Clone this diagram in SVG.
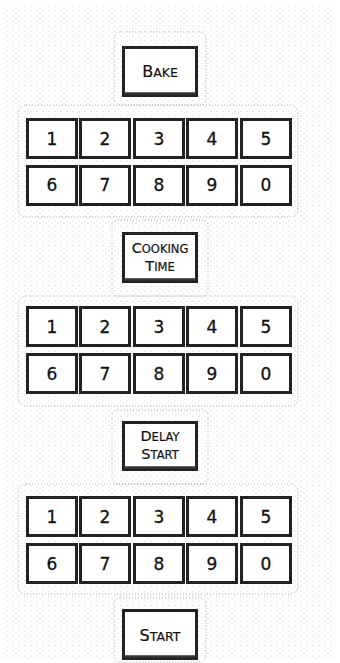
<svg xmlns="http://www.w3.org/2000/svg" width="340" height="663" viewBox="0 0 340 663">
<defs>
<pattern id="stip" width="6" height="5" patternUnits="userSpaceOnUse">
<circle cx="1" cy="1" r="0.5" fill="#b5b5b5"/>
<circle cx="4" cy="3.5" r="0.45" fill="#c5c5c5"/>
</pattern>
<style>
.key{fill:#fff;stroke:#222;stroke-width:3}
.btm{stroke:#333;stroke-width:2.5;fill:none}
.dig{font-family:"DejaVu Sans","Liberation Sans",sans-serif;font-size:17px;fill:#111;stroke:#111;stroke-width:0.3;text-anchor:middle}
.lbl{font-family:"DejaVu Sans","Liberation Sans",sans-serif;font-size:16px;fill:#111;stroke:#111;stroke-width:0.2;text-anchor:middle}
.lbl2{font-family:"DejaVu Sans","Liberation Sans",sans-serif;font-size:14.5px;fill:#111;stroke:#111;stroke-width:0.2;text-anchor:middle}
.sc{font-size:12.5px}
.sc2{font-size:11.5px}
.zone{fill:none;stroke:#999;stroke-width:0.8;stroke-dasharray:1 2}
</style>
</defs>
<rect x="0" y="0" width="340" height="663" fill="#fff"/>
<rect x="3" y="6" width="332" height="654" fill="url(#stip)"/>
<g id="zones">
<rect class="zone" x="114" y="32" width="92" height="73" rx="6"/>
<rect class="zone" x="18" y="105" width="280" height="112" rx="8"/>
<rect class="zone" x="112" y="220" width="96" height="76" rx="6"/>
<rect class="zone" x="18" y="296" width="280" height="110" rx="8"/>
<rect class="zone" x="112" y="410" width="96" height="74" rx="6"/>
<rect class="zone" x="18" y="484" width="280" height="110" rx="8"/>
<rect class="zone" x="114" y="598" width="92" height="64" rx="6"/>
</g>
<g id="bake">
<rect class="key" x="123.5" y="47.5" width="73" height="48"/>
<line class="btm" x1="124" y1="93.5" x2="196" y2="93.5"/>
<text class="lbl" x="160" y="77">B<tspan class="sc">AKE</tspan></text>
</g>
<g id="keypad1">
<g id="k1-1"><rect class="key" x="27.5" y="119.5" width="49" height="38"/><text class="dig" x="52" y="145">1</text></g>
<g id="k1-2"><rect class="key" x="80.5" y="119.5" width="49" height="38"/><text class="dig" x="105" y="145">2</text></g>
<g id="k1-3"><rect class="key" x="134.5" y="119.5" width="49" height="38"/><text class="dig" x="159" y="145">3</text></g>
<g id="k1-4"><rect class="key" x="187.5" y="119.5" width="49" height="38"/><text class="dig" x="212" y="145">4</text></g>
<g id="k1-5"><rect class="key" x="241.5" y="119.5" width="49" height="38"/><text class="dig" x="266" y="145">5</text></g>
<g id="k1-6"><rect class="key" x="27.5" y="166.5" width="49" height="38"/><text class="dig" x="52" y="191">6</text></g>
<g id="k1-7"><rect class="key" x="80.5" y="166.5" width="49" height="38"/><text class="dig" x="105" y="191">7</text></g>
<g id="k1-8"><rect class="key" x="134.5" y="166.5" width="49" height="38"/><text class="dig" x="159" y="191">8</text></g>
<g id="k1-9"><rect class="key" x="187.5" y="166.5" width="49" height="38"/><text class="dig" x="212" y="191">9</text></g>
<g id="k1-0"><rect class="key" x="241.5" y="166.5" width="49" height="38"/><text class="dig" x="266" y="191">0</text></g>
</g>
<g id="cooking-time">
<rect class="key" x="123.5" y="233.5" width="73" height="48"/>
<line class="btm" x1="124" y1="279.5" x2="196" y2="279.5"/>
<text class="lbl2" x="160" y="253">C<tspan class="sc2">OOKING</tspan></text>
<text class="lbl2" x="160" y="271">T<tspan class="sc2">IME</tspan></text>
</g>
<g id="keypad2">
<g id="k2-1"><rect class="key" x="27.5" y="307.5" width="49" height="38"/><text class="dig" x="52" y="333">1</text></g>
<g id="k2-2"><rect class="key" x="80.5" y="307.5" width="49" height="38"/><text class="dig" x="105" y="333">2</text></g>
<g id="k2-3"><rect class="key" x="134.5" y="307.5" width="49" height="38"/><text class="dig" x="159" y="333">3</text></g>
<g id="k2-4"><rect class="key" x="187.5" y="307.5" width="49" height="38"/><text class="dig" x="212" y="333">4</text></g>
<g id="k2-5"><rect class="key" x="241.5" y="307.5" width="49" height="38"/><text class="dig" x="266" y="333">5</text></g>
<g id="k2-6"><rect class="key" x="27.5" y="354.5" width="49" height="38"/><text class="dig" x="52" y="380">6</text></g>
<g id="k2-7"><rect class="key" x="80.5" y="354.5" width="49" height="38"/><text class="dig" x="105" y="380">7</text></g>
<g id="k2-8"><rect class="key" x="134.5" y="354.5" width="49" height="38"/><text class="dig" x="159" y="380">8</text></g>
<g id="k2-9"><rect class="key" x="187.5" y="354.5" width="49" height="38"/><text class="dig" x="212" y="380">9</text></g>
<g id="k2-0"><rect class="key" x="241.5" y="354.5" width="49" height="38"/><text class="dig" x="266" y="380">0</text></g>
</g>
<g id="delay-start">
<rect class="key" x="123.5" y="422.5" width="73" height="47"/>
<line class="btm" x1="124" y1="467.5" x2="196" y2="467.5"/>
<text class="lbl2" x="160" y="441">D<tspan class="sc2">ELAY</tspan></text>
<text class="lbl2" x="160" y="459">S<tspan class="sc2">TART</tspan></text>
</g>
<g id="keypad3">
<g id="k3-1"><rect class="key" x="27.5" y="497.5" width="49" height="38"/><text class="dig" x="52" y="523">1</text></g>
<g id="k3-2"><rect class="key" x="80.5" y="497.5" width="49" height="38"/><text class="dig" x="105" y="523">2</text></g>
<g id="k3-3"><rect class="key" x="134.5" y="497.5" width="49" height="38"/><text class="dig" x="159" y="523">3</text></g>
<g id="k3-4"><rect class="key" x="187.5" y="497.5" width="49" height="38"/><text class="dig" x="212" y="523">4</text></g>
<g id="k3-5"><rect class="key" x="241.5" y="497.5" width="49" height="38"/><text class="dig" x="266" y="523">5</text></g>
<g id="k3-6"><rect class="key" x="27.5" y="544.5" width="49" height="38"/><text class="dig" x="52" y="570">6</text></g>
<g id="k3-7"><rect class="key" x="80.5" y="544.5" width="49" height="38"/><text class="dig" x="105" y="570">7</text></g>
<g id="k3-8"><rect class="key" x="134.5" y="544.5" width="49" height="38"/><text class="dig" x="159" y="570">8</text></g>
<g id="k3-9"><rect class="key" x="187.5" y="544.5" width="49" height="38"/><text class="dig" x="212" y="570">9</text></g>
<g id="k3-0"><rect class="key" x="241.5" y="544.5" width="49" height="38"/><text class="dig" x="266" y="570">0</text></g>
</g>
<g id="start">
<rect class="key" x="123.5" y="610.5" width="73" height="48"/>
<line class="btm" x1="124" y1="656.5" x2="196" y2="656.5"/>
<text class="lbl" x="160" y="641">S<tspan class="sc">TART</tspan></text>
</g>
<g id="connectors"/>
</svg>
